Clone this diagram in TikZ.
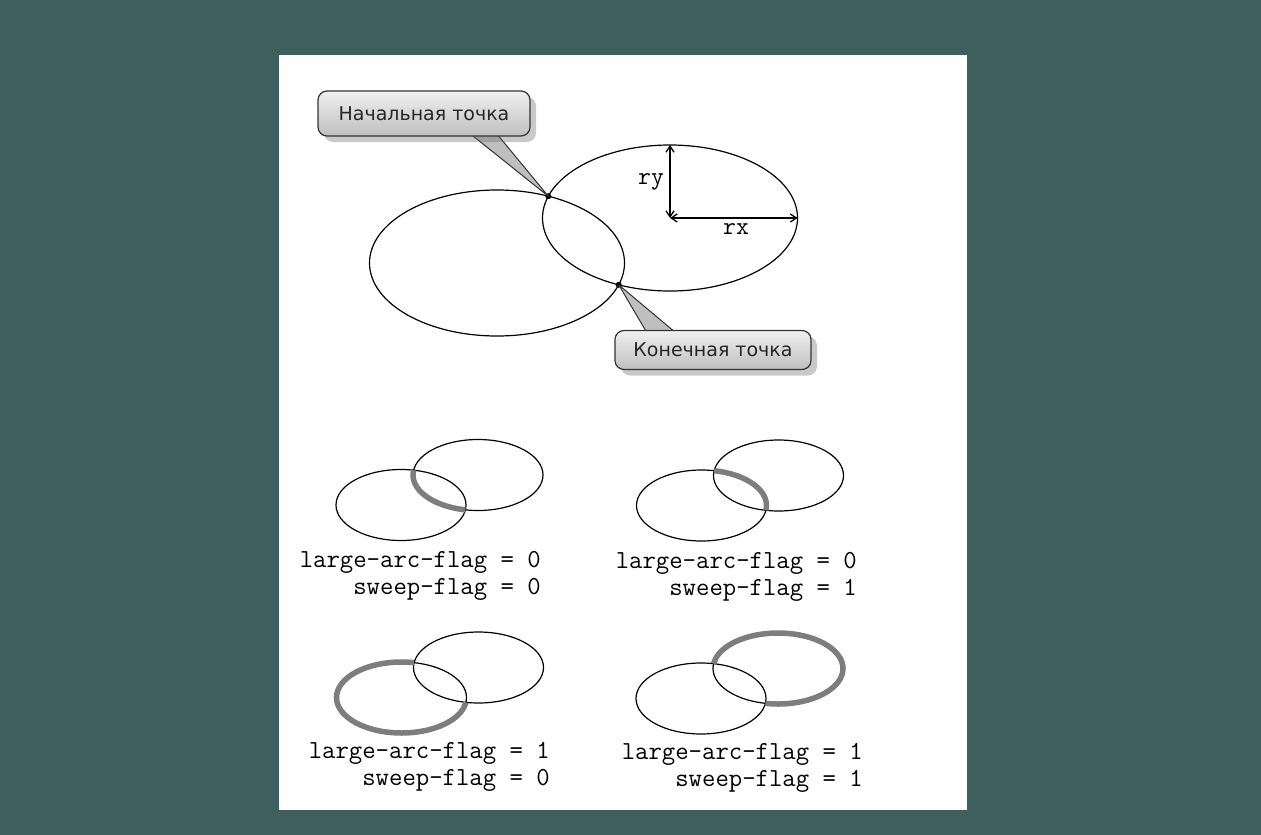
\documentclass[tikz,border=0pt]{standalone}
\usepackage{fontspec}
\setmainfont{DejaVu Sans}
\usetikzlibrary{arrows.meta,shadows}
\definecolor{bgteal}{RGB}{63,94,94}
\definecolor{thickgray}{RGB}{125,125,125}
\tikzset{
  x=1pt,y=1pt,
  thinline/.style={draw=black,line width=1.2},
  thickarc/.style={draw=thickgray,line width=5.5},
  flaglabel/.style={font=\ttfamily\fontsize{26}{30}\selectfont,inner sep=0,anchor=base east},
  radlabel/.style={font=\ttfamily\fontsize{25}{30}\selectfont,inner sep=0},
  callout/.style={draw=gray!40!black,line width=1.2,rounded corners=9,top color=gray!12,bottom color=gray!50,
    font=\fontsize{19}{22}\selectfont,text=black!85,inner sep=0,
    drop shadow={shadow xshift=6,shadow yshift=-6,opacity=0.35,fill=gray!80!black}},
  pointer/.style={draw=gray!40!black,line width=1,fill=gray!50,line join=round},
  dot/.style={circle,fill=black,inner sep=0,minimum size=6},
  radarrow/.style={{Straight Barb[length=6,width=8]}-{Straight Barb[length=6,width=8]},line width=1.3},
}
\newcommand\rX{65}
\newcommand\rY{35.5}
\begin{document}
\begin{tikzpicture}
\useasboundingbox (0,0) rectangle (1261,-835);
\fill[bgteal] (0,0) rectangle (1261,-835);
\fill[white] (279,-55) rectangle (967,-810);

% ---- top diagram ----
\coordinate (c1) at (497,-263);
\coordinate (c2) at (670,-218);
\draw[thinline] (c1) ellipse [x radius=127.5,y radius=73];
\draw[thinline] (c2) ellipse [x radius=127.5,y radius=73];
\node[dot] (startpt) at (548.3,-196.2) {};
\node[dot] (endpt) at (618.7,-284.8) {};
\coordinate (ytop) at (670,-145);
\coordinate (xright) at (797.5,-218);
\draw[radarrow] (c2) -- (ytop);
\draw[radarrow] (c2) -- (xright);
\node[radlabel] (rylab) at (651,-182) {ry};
\node[radlabel] (rxlab) at (736,-229) {rx};

% callouts
\coordinate (p1a) at (463,-128);
\coordinate (p1b) at (492,-128);
\draw[pointer] (p1a) -- (startpt.center) -- (p1b) -- cycle;
\node[callout,minimum width=212,minimum height=45] (startbox) at (424,-113.5) {Начальная точка};
\coordinate (p2a) at (650,-338);
\coordinate (p2b) at (682,-338);
\draw[pointer] (p2a) -- (endpt.center) -- (p2b) -- cycle;
\node[callout,minimum width=196,minimum height=39] (endbox) at (713,-350) {Конечная точка};

% ---- four small panels ----
% panel 1: large=0 sweep=0
\begin{scope}[shift={(401,-505)}]
  \draw[thinline] (0,0) ellipse [x radius=\rX,y radius=\rY];
  \draw[thinline] (77,30) ellipse [x radius=\rX,y radius=\rY];
  \draw[thickarc] (77,30) ++(172.2:\rX pt and \rY pt) arc[start angle=172.2,end angle=258.8,x radius=\rX,y radius=\rY];
\end{scope}
\node[flaglabel] (l1a) at (541,-567) {large-arc-flag = 0};
\node[flaglabel] (l1b) at (541,-594) {sweep-flag = 0};

% panel 2: large=0 sweep=1
\begin{scope}[shift={(701.5,-505.5)}]
  \draw[thinline] (0,0) ellipse [x radius=\rX,y radius=\rY];
  \draw[thinline] (77,30) ellipse [x radius=\rX,y radius=\rY];
  \draw[thickarc] (0,0) ++(-7.8:\rX pt and \rY pt) arc[start angle=-7.8,end angle=78.8,x radius=\rX,y radius=\rY];
\end{scope}
\node[flaglabel] (l2a) at (857,-568) {large-arc-flag = 0};
\node[flaglabel] (l2b) at (857,-595) {sweep-flag = 1};

% panel 3: large=1 sweep=0
\begin{scope}[shift={(401.5,-697.5)}]
  \draw[thinline] (0,0) ellipse [x radius=\rX,y radius=\rY];
  \draw[thinline] (77,30) ellipse [x radius=\rX,y radius=\rY];
  \draw[thickarc] (0,0) ++(78.8:\rX pt and \rY pt) arc[start angle=78.8,end angle=352.2,x radius=\rX,y radius=\rY];
\end{scope}
\node[flaglabel] (l3a) at (550,-758) {large-arc-flag = 1};
\node[flaglabel] (l3b) at (550,-785) {sweep-flag = 0};

% panel 4: large=1 sweep=1
\begin{scope}[shift={(701,-698.5)}]
  \draw[thinline] (0,0) ellipse [x radius=\rX,y radius=\rY];
  \draw[thinline] (77,30) ellipse [x radius=\rX,y radius=\rY];
  \draw[thickarc] (77,30) ++(-101.2:\rX pt and \rY pt) arc[start angle=-101.2,end angle=172.2,x radius=\rX,y radius=\rY];
\end{scope}
\node[flaglabel] (l4a) at (863,-759) {large-arc-flag = 1};
\node[flaglabel] (l4b) at (863,-786) {sweep-flag = 1};
\end{tikzpicture}
\end{document}
